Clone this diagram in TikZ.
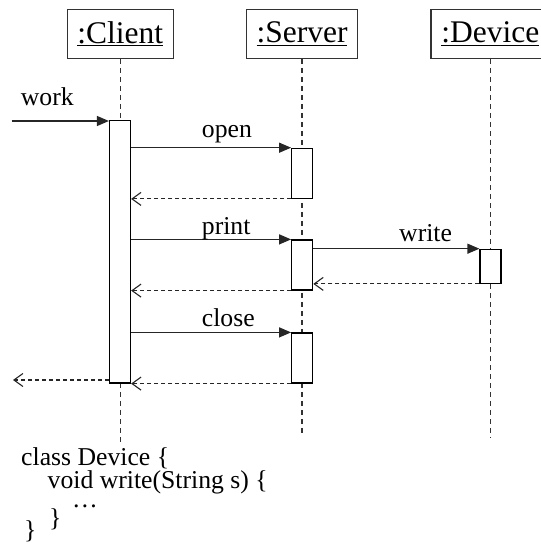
\documentclass[tikz,border=0pt]{standalone}
\usepackage{fontspec}
\setmainfont{Liberation Serif}
\usetikzlibrary{arrows.meta}
\begin{document}
\begin{tikzpicture}[x=1pt,y=-1pt]
	\tikzstyle{object}=[draw=black!80,line width=1.2pt,minimum height=49pt,inner sep=0pt,font=\fontsize{31.5}{34}\selectfont]
	\tikzstyle{activation}=[draw=black,line width=1.2pt,fill=white,minimum width=21pt,inner sep=0pt]
	\tikzstyle{lifeline}=[draw=black!80,line width=1.1pt,dash pattern=on 5pt off 4pt]
	\tikzstyle{call}=[draw=black!85,line width=1.2pt,-{Triangle[length=12pt,width=10pt]}]
	\tikzstyle{reply}=[draw=black!85,line width=1.1pt,dash pattern=on 4pt off 3pt,-{Straight Barb[length=9pt,width=13pt]}]
	\tikzstyle{message}=[anchor=base west,inner sep=0pt,font=\fontsize{25.7}{28}\selectfont]
	\useasboundingbox (0,0) rectangle (540,553);
	\begin{scope}
		% objects and lifelines
		\node [object,minimum width=106pt] (client) at (120.3,33.7) {\underline{:Client}};
		\node [object,minimum width=111.3pt] (server) at (302,33.7) {\underline{:Server}};
		\node [object,minimum width=118.6pt] (device) at (490.3,33.7) {\underline{:Device}};
		\coordinate (cend) at (120.3,443);
		\coordinate (send) at (302,435);
		\coordinate (dend) at (490.3,437);
		\path[lifeline] (client.south) -- (cend);
		\path[lifeline] (server.south) -- (send);
		\path[lifeline] (device.south) -- (dend);
		% activations
		\node [activation,minimum height=262.3pt] (ca) at (120,251.85) {};
		\node [activation,minimum height=50pt] (so) at (302.2,173.3) {};
		\node [activation,minimum height=50pt] (sp) at (302.2,265) {};
		\node [activation,minimum height=50pt] (sc) at (302.2,358) {};
		\node [activation,minimum height=34pt] (dw) at (490.5,266.3) {};
		% messages
		\coordinate (caller) at (11.7,121);
		\coordinate (back) at (13,380);
		\path[call] (caller) -- (caller -| ca.west);
		\path[call] (ca.east |- so.north) -- (so.north west);
		\path[reply] (so.south west) -- (ca.east |- so.south);
		\path[call] (ca.east |- sp.north) -- (sp.north west);
		\path[call] (sp.east |- dw.north) -- (dw.north west);
		\path[reply] (dw.south west) -- (sp.east |- dw.south);
		\path[reply] (sp.south west) -- (ca.east |- sp.south);
		\path[call] (ca.east |- sc.north) -- (sc.north west);
		\path[reply] (sc.south west) -- (ca.south east);
		\path[reply] (ca.west |- back) -- (back);
		\node [message] (lwork) at (20.7,106) {work};
		\node [message] (lopen) at (201.7,137.7) {open};
		\node [message] (lprint) at (201.7,234) {print};
		\node [message] (lwrite) at (399,241.7) {write};
		\node [message] (lclose) at (201.7,326) {close};
		% code
		\node [message] (c1) at (21,465) {class Device \{};
		\node [message] (c2) at (47.5,488.3) {void write(String s) \{};
		\node [message] (c3) at (72,507.5) {…};
		\node [message] (c4) at (49,526) {\}};
		\node [message] (c5) at (24,538) {\}};
	\end{scope}
\end{tikzpicture}
\end{document}
